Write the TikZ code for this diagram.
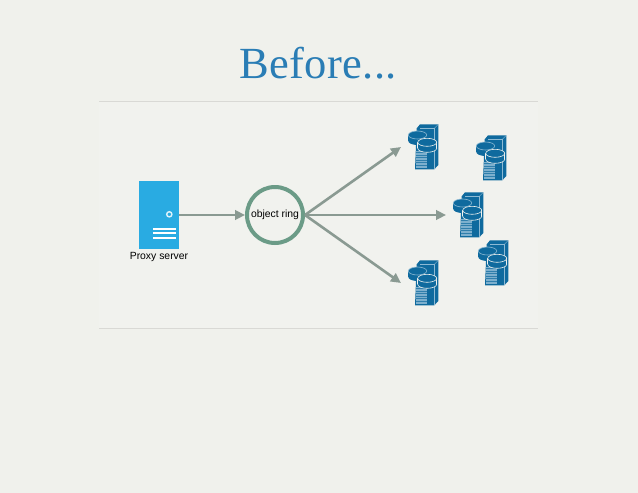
\documentclass[tikz,border=0pt]{standalone}
\usepackage{fontspec}
\setmainfont{Liberation Sans}
\newfontfamily\titlefont[LetterSpace=0.8]{Liberation Serif}
\usetikzlibrary{arrows.meta}
\definecolor{pagebg}{HTML}{F0F1EC}
\definecolor{panelbg}{HTML}{F1F2EE}
\definecolor{rulecol}{HTML}{D9D9D5}
\definecolor{titleblue}{HTML}{2A7DB5}
\definecolor{proxyblue}{HTML}{29ABE2}
\definecolor{ringgreen}{HTML}{6B9B87}
\definecolor{arrowgrey}{HTML}{8A9A92}
\definecolor{srvblue}{HTML}{0F6A9E}
\definecolor{srvlight}{HTML}{7DB0CE}
\definecolor{srvedge}{HTML}{8DBAD4}
\tikzset{
  lbl/.style={font=\fontsize{10.4}{12}\selectfont,text=black,inner sep=0pt},
  conn/.style={draw=arrowgrey,line width=2.6pt,-{Triangle[length=10pt,width=9.5pt]}},
  srvbox/.style={minimum width=31pt,minimum height=46pt,inner sep=0pt,outer xsep=7pt,outer ysep=0pt},
  storage/.pic={
    % tower
    \fill[srvblue] (8.7,4.3) -- (12,0.3) -- (30.3,0.3) -- (30.3,41) -- (26.3,45.3) -- (7,45.3) -- cycle;
    \draw[srvedge,line width=0.4pt] (12,4.3) -- (26.3,4.3) -- (26.3,45.3);
    \draw[srvedge,line width=0.4pt] (26.3,4.3) -- (30.3,0.3);
    % ventilated front
    \fill[srvlight] (7.8,27) rectangle (18.6,44);
    \foreach \yy in {28.5,31,...,43}
      \draw[srvblue!70!srvlight,line width=0.5pt] (7.8,\yy) -- (18.6,\yy);
    % rear disk
    \fill[srvblue] (9.5,17) ellipse[x radius=9.2pt,y radius=4pt];
    \fill[srvblue] (0.3,11) rectangle (18.7,17);
    \draw[srvedge,line width=0.6pt,fill=srvblue] (9.5,11) ellipse[x radius=9.2pt,y radius=4pt];
    % front disk
    \draw[panelbg,line width=0.6pt,fill=srvblue] (19.2,24.3) ellipse[x radius=9.5pt,y radius=4pt];
    \fill[srvblue] (9.7,18.3) rectangle (28.7,24.3);
    \draw[panelbg,line width=0.6pt] (9.7,18.3) -- (9.7,24.3) (28.7,18.3) -- (28.7,24.3);
    \draw[panelbg,line width=0.6pt,fill=srvblue] (19.2,18.3) ellipse[x radius=9.5pt,y radius=4pt];
  }
}
\begin{document}
\begin{tikzpicture}[x=1pt,y=-1pt]
\useasboundingbox (0,0) rectangle (638,493);
\fill[pagebg] (0,0) rectangle (638,493);
\fill[panelbg] (99,101) rectangle (538,328);
\draw[rulecol,line width=0.8pt] (99,101) -- (538,101);
\draw[rulecol,line width=0.8pt] (99,328) -- (538,328);
\node[inner sep=0pt,text=titleblue,font=\titlefont\fontsize{44.5}{50}\selectfont] (title) at (318,63) {Before...};

% proxy server
\node[fill=proxyblue,minimum width=40pt,minimum height=68pt,inner sep=0pt] (proxy) at (159,215) {};
\draw[white!85!proxyblue,line width=1.4pt,fill=proxyblue] (169.3,214.3) circle[radius=2.6pt];
\draw[white,line width=1.9pt] (153,229.3) -- (176,229.3) (153,233.4) -- (176,233.4) (153,237.6) -- (176,237.6);
\node[lbl] (proxylabel) at (159,257) {Proxy server};

% ring
\node[circle,draw=ringgreen,line width=4pt,fill=panelbg,minimum size=56pt,inner sep=0pt,lbl] (ring) at (275,215) {\raisebox{-2.2pt}{object ring}};

% servers
\node[srvbox] (srv1) at (423.5,147) {};
\node[srvbox] (srv2) at (491.5,158) {};
\node[srvbox] (srv3) at (468.5,215) {};
\node[srvbox] (srv4) at (493.5,263) {};
\node[srvbox] (srv5) at (423.5,283) {};
\pic at (408,124) {storage};
\pic at (476,135) {storage};
\pic at (453,192) {storage};
\pic at (478,240) {storage};
\pic at (408,260) {storage};

% connectors
\draw[conn] (proxy.east) -- (ring.west);
\draw[conn] (ring.east) -- (srv1.west);
\draw[conn] (ring.east) -- (srv3.west);
\draw[conn] (ring.east) -- (srv5.west);
\end{tikzpicture}
\end{document}
